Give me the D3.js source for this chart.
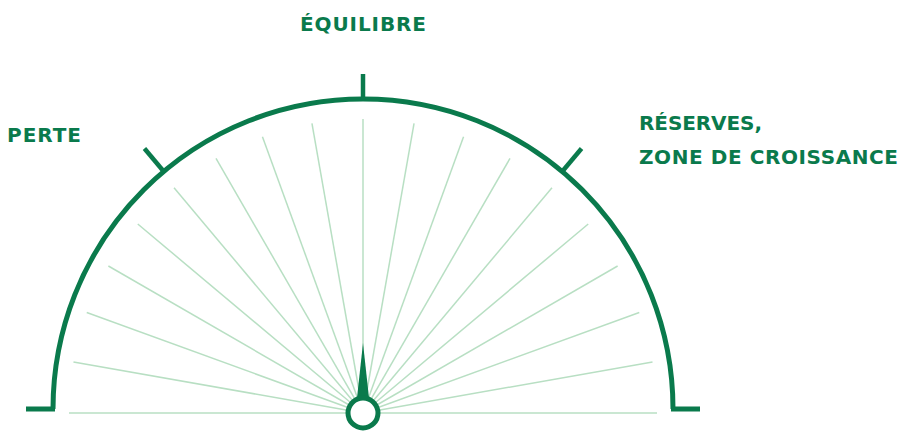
<!DOCTYPE html>
<meta charset="utf-8">
<style>
body { margin: 0; background: #fff; }
.label {
  font-family: "DejaVu Sans", sans-serif;
  font-weight: bold;
  font-size: 20px;
  fill: #0a7a4c;
}
</style>
<body>
<script src="https://cdn.jsdelivr.net/npm/d3@7"></script>
<script>

// gauge data
var rayAngles = [-90, -80, -70, -60, -50, -40, -30, -20, -10, 0, 10, 20, 30, 40, 50, 60, 70, 80, 90];
var tickAngles = [-40, 0, 40];
var needleValue = 0;
var labels = [
  {text: ["PERTE"], x: 7, y: 142, anchor: "start", w: [74]},
  {text: ["ÉQUILIBRE"], x: 363, y: 31, anchor: "middle", w: [126]},
  {text: ["RÉSERVES,", "ZONE DE CROISSANCE"], x: 639, y: 130, anchor: "start", w: [123, 259]}
];

var width = 909, height = 438;
var green = "#0a7a4c", pale = "#b8dfc3";

var cx = 363, cy = 413;      // hub centre
var arcCy = 409, arcR = 310; // outer arc

// degrees (0 = straight up) -> radians
var ang = d3.scaleLinear().domain([-90, 90]).range([-Math.PI / 2, Math.PI / 2]);

var svg = d3.select("body").append("svg")
    .attr("width", width)
    .attr("height", height);

// light rays
svg.append("g").selectAll("line")
    .data(rayAngles)
  .enter().append("line")
    .attr("x1", cx).attr("y1", cy)
    .attr("x2", function(d) { return cx + 294 * Math.sin(ang(d)); })
    .attr("y2", function(d) { return cy - 294 * Math.cos(ang(d)); })
    .attr("stroke", pale)
    .attr("stroke-width", 1.5);

// outer arc
var arc = d3.arc()
    .innerRadius(arcR)
    .outerRadius(arcR)
    .startAngle(ang(-90))
    .endAngle(ang(90));

var g = svg.append("g")
    .attr("transform", "translate(" + cx + "," + arcCy + ")");

g.append("path")
    .attr("d", arc())
    .attr("fill", "none")
    .attr("stroke", green)
    .attr("stroke-width", 5);

// feet
g.append("path")
    .attr("d", "M" + (-arcR - 27) + ",0H" + (-arcR + 2) + "M" + (arcR - 2) + ",0H" + (arcR + 27))
    .attr("stroke", green)
    .attr("stroke-width", 5);

// ticks
g.selectAll(".tick")
    .data(tickAngles)
  .enter().append("line")
    .attr("class", "tick")
    .attr("x1", function(d) { return (arcR - 1) * Math.sin(ang(d)); })
    .attr("y1", function(d) { return -(arcR - 1) * Math.cos(ang(d)); })
    .attr("x2", function(d) { return (arcR + (d === 0 ? 25 : 30)) * Math.sin(ang(d)); })
    .attr("y2", function(d) { return -(arcR + (d === 0 ? 25 : 30)) * Math.cos(ang(d)); })
    .attr("stroke", green)
    .attr("stroke-width", 4.5);

// needle
var hub = svg.append("g")
    .attr("transform", "translate(" + cx + "," + cy + ")");

hub.append("path")
    .attr("d", "M-6,-15L0,-70L6,-15Z")
    .attr("transform", "rotate(" + needleValue + ")")
    .attr("fill", green);

hub.append("circle")
    .attr("r", 15)
    .attr("fill", "#fff")
    .attr("stroke", green)
    .attr("stroke-width", 5);

// labels
var lab = svg.selectAll(".label")
    .data(labels)
  .enter().append("text")
    .attr("class", "label")
    .attr("text-anchor", function(d) { return d.anchor; });

lab.selectAll("tspan")
    .data(function(d) { return d.text.map(function(t, i) { return {t: t, x: d.x, y: d.y + i * 34, w: d.w[i]}; }); })
  .enter().append("tspan")
    .attr("x", function(d) { return d.x; })
    .attr("y", function(d) { return d.y; })
    .attr("textLength", function(d) { return d.w; })
    .attr("lengthAdjust", "spacing")
    .text(function(d) { return d.t; });

</script>
</body>
